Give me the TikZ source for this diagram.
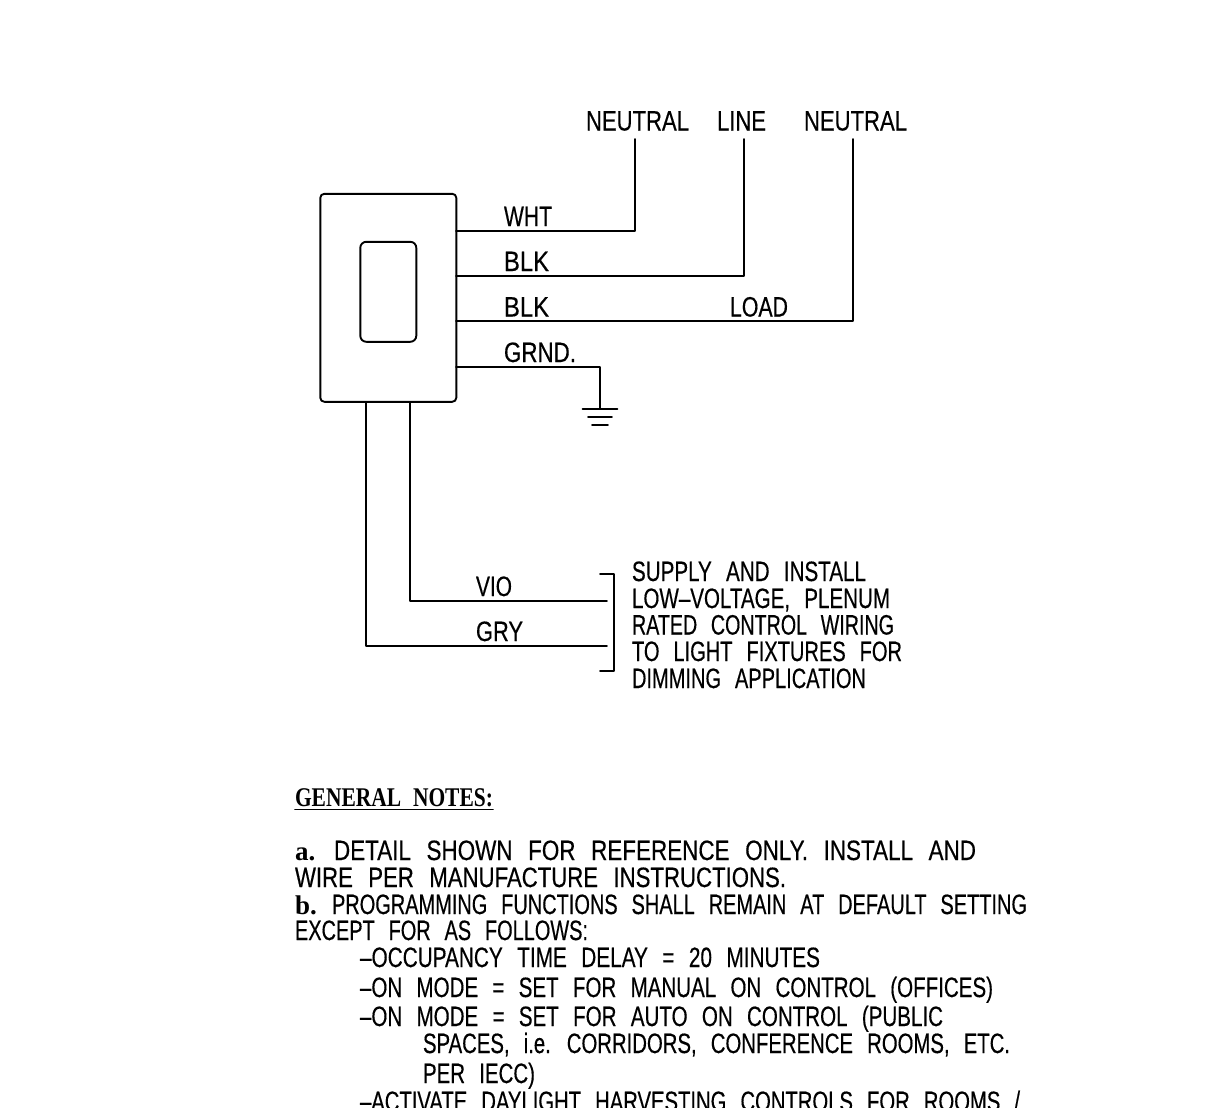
\documentclass[tikz,border=0pt]{standalone}
\usepackage{fontspec}
\newfontfamily\cadfont[FakeStretch=0.8,WordSpace=2.5,FakeBold=0.4]{Liberation Sans}
\newfontfamily\cadbold[WordSpace=2.2]{Liberation Serif Bold}
\usetikzlibrary{calc}
\newcommand{\fitline}[2]{\resizebox{#1pt}{\height}{#2}}
\tikzstyle{every node}=[font=\cadfont\fontsize{28}{28}\selectfont]
\tikzset{
    cadtext/.style={anchor=base west,inner sep=0pt,outer sep=0pt},
    boldtext/.style={cadtext,font=\cadbold\fontsize{27}{27}\selectfont},
    platebox/.style={draw,rounded corners=4pt,minimum width=136pt,minimum height=208pt,inner sep=0pt},
    rockerbox/.style={draw,rounded corners=6pt,minimum width=56pt,minimum height=100pt,inner sep=0pt},
}

\begin{document}
\begin{tikzpicture}[x=1pt,y=-1pt,line width=1.9pt,line cap=round,line join=round]
    \useasboundingbox (0,0) rectangle (1210,1108);
    \clip (0,0) rectangle (1210,1108);

    % Wall plate and rocker
    \node [platebox] (plate) at (388.3,297.8) {};
    \node [rockerbox] (rocker) at (388.3,291.8) {};

    % Wire ends
    \coordinate (wht) at (456,230.7);
    \coordinate (blka) at (456,275.7);
    \coordinate (blkb) at (456,320.9);
    \coordinate (grnd) at (456,366.7);
    \coordinate (neutrala) at (634.8,139);
    \coordinate (line) at (743.8,139);
    \coordinate (neutralb) at (852.8,139);
    \coordinate (earth) at (600,409);
    \coordinate (gry) at (366,402);
    \coordinate (vio) at (410,402);
    \coordinate (violet) at (607,600.7);
    \coordinate (grey) at (607,645.8);

    % Supply wires
    \draw
    (wht) -| (neutrala)
    (blka) -| (line)
    (blkb) -| (neutralb)
    (grnd) -| (earth)
    % Ground symbol
    (earth)++(-17.5,0) -- ++(35,0)
    (earth)++(-12,8) -- ++(24,0)
    (earth)++(-8,16) -- ++(16,0)

    % Control wires
    (vio) |- (violet)
    (gry) |- (grey)

    % Bracket
    (600,574) -- ++(14,0) -- ++(0,97) -- ++(-14,0);

    % Wire labels
    \node [cadtext] (lneutrala) at (586,130.5) {\fitline{103}{NEUTRAL}};
    \node [cadtext] (lline) at (717,130.5) {\fitline{49}{LINE}};
    \node [cadtext] (lneutralb) at (804,130.5) {\fitline{103}{NEUTRAL}};
    \node [cadtext] (lwht) at (504,226) {\fitline{48}{WHT}};
    \node [cadtext] (lblka) at (504,271) {\fitline{45}{BLK}};
    \node [cadtext] (lblkb) at (504,316.5) {\fitline{45}{BLK}};
    \node [cadtext] (lload) at (730,316.5) {\fitline{58}{LOAD}};
    \node [cadtext] (lgrnd) at (504,362) {\fitline{72}{GRND.}};
    \node [cadtext] (lvio) at (476,596) {\fitline{36}{VIO}};
    \node [cadtext] (lgry) at (476,641) {\fitline{47}{GRY}};

    % Bracket note
    \node [cadtext] (supa) at (632,581) {\fitline{234}{SUPPLY AND INSTALL}};
    \node [cadtext] (supb) at (632,608) {\fitline{258}{LOW–VOLTAGE, PLENUM}};
    \node [cadtext] (supc) at (632,634.5) {\fitline{262}{RATED CONTROL WIRING}};
    \node [cadtext] (supd) at (632,661) {\fitline{270}{TO LIGHT FIXTURES FOR}};
    \node [cadtext] (supe) at (632,688) {\fitline{234}{DIMMING APPLICATION}};

    % General notes
    \node [boldtext] (title) at (295,806) {\fitline{198}{GENERAL NOTES:}};
    \draw (title.base west)++(0,3.5) -- ($(title.base east)+(0,3.5)$);
    \node [boldtext] (nota) at (295,860) {a.};
    \node [cadtext] (notaa) at (334,860) {\fitline{642}{DETAIL SHOWN FOR REFERENCE ONLY. INSTALL AND}};
    \node [cadtext] (notab) at (295,887) {\fitline{491}{WIRE PER MANUFACTURE INSTRUCTIONS.}};
    \node [boldtext] (notb) at (295,914) {b.};
    \node [cadtext] (notba) at (332,914) {\fitline{695}{PROGRAMMING FUNCTIONS SHALL REMAIN AT DEFAULT SETTING}};
    \node [cadtext] (notbb) at (295,940) {\fitline{293}{EXCEPT FOR AS FOLLOWS:}};
    \node [cadtext] (itema) at (360,967) {\fitline{460}{–OCCUPANCY TIME DELAY = 20 MINUTES}};
    \node [cadtext] (itemb) at (360,997) {\fitline{633}{–ON MODE = SET FOR MANUAL ON CONTROL (OFFICES)}};
    \node [cadtext] (itemc) at (360,1026) {\fitline{583}{–ON MODE = SET FOR AUTO ON CONTROL (PUBLIC}};
    \node [cadtext] (itemd) at (423,1053) {\fitline{587}{SPACES, i.e. CORRIDORS, CONFERENCE ROOMS, ETC.}};
    \node [cadtext] (iteme) at (423,1083) {\fitline{112}{PER IECC)}};
    \node [cadtext] (itemf) at (360,1111) {\fitline{660}{–ACTIVATE DAYLIGHT HARVESTING CONTROLS FOR ROOMS /}};
\end{tikzpicture}
\end{document}
